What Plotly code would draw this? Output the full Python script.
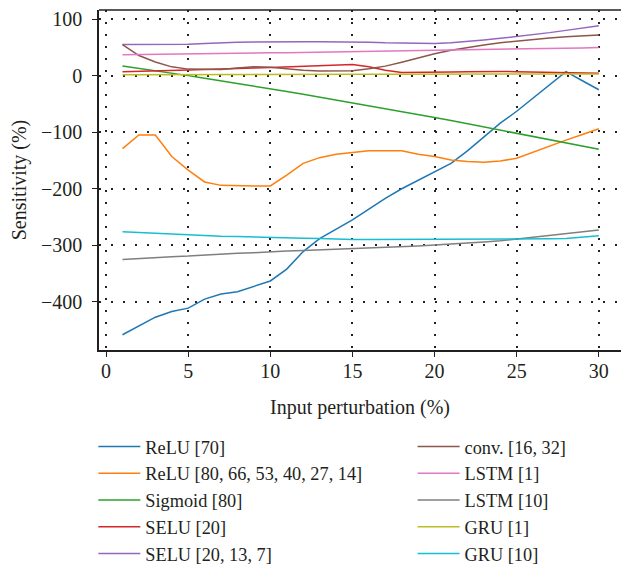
import plotly.graph_objects as go

x = list(range(1, 31))

relu_70 = [-458, -443, -427, -417, -411, -395, -386, -382, -373, -363,
           -342, -311, -288, -272, -255, -236, -217, -200, -185, -170,
           -155, -133, -108, -84, -63, -40, -16, 7, -9, -25]
relu_deep = [-129, -105, -105, -143, -167, -188, -194, -195, -195, -195,
             -176, -155, -145, -139, -136, -133, -133, -133, -139, -143,
             -149, -152, -153, -151, -146, -135, -125, -114, -104, -94]
sigmoid_80 = [17, 13, 8.5, 4, 0, -4.5, -9, -13.5, -18.5, -23,
              -28, -33, -38, -43, -48, -53, -58, -63.5, -68.5, -74,
              -79.5, -85, -90.5, -96, -102, -107.5, -113, -119, -124.5, -130]
selu_20 = [7, 7.5, 8, 9, 10, 11, 11.5, 12.5, 13.5, 14.5,
           15.5, 16.5, 17.5, 18.5, 19.5, 15.5, 9.7, 5.6, 5.6, 5.6,
           6.5, 7, 7.5, 7.5, 7, 6.5, 6, 5, 4.5, 4]
selu_deep = [55, 55, 55, 55, 55.5, 57, 58.5, 59, 59.5, 60,
             60, 60, 60, 60, 59.5, 59, 58, 57.5, 57, 57,
             58, 60, 63, 66, 69, 72.5, 76, 80, 84, 88]
conv = [55, 35.5, 24, 15.5, 11.5, 11, 11, 13.5, 15.5, 15,
        12, 9.7, 8, 8, 8.5, 12, 16.8, 23.8, 31.5, 38.5,
        45, 50, 54, 58, 61, 64, 66.5, 68.5, 70, 72]
lstm_1 = [37, 37.5, 38, 38.3, 38.6, 39, 39.3, 39.6, 40, 40.3,
          40.6, 41, 41.3, 41.6, 42, 42.5, 43, 43.5, 44, 44.5,
          45, 45.5, 46, 46.5, 47, 47.5, 48, 48.5, 49, 49.5]
lstm_10 = [-325, -323, -322, -320, -319, -317, -316, -314, -313, -311,
           -310, -309, -308, -307, -306, -305, -304, -302.5, -301, -299.5,
           -298, -296, -294, -292, -289, -286, -283, -280, -277, -273]
gru_1 = [1.5, 1.5, 1.5, 1.5, 1.5, 1.5, 1.6, 1.7, 1.8, 1.9,
         2, 2, 2, 2, 2, 2.1, 2.2, 2.3, 2.4, 2.5,
         2.5, 2.5, 2.6, 2.7, 2.8, 2.9, 3, 3, 3, 3]
gru_10 = [-276, -277.5, -279, -280.5, -282, -283, -284, -284.5, -285.5, -286,
          -287, -287.5, -288, -289, -289.5, -289.5, -289.5, -289.5, -289.5, -289.5,
          -289.5, -289.5, -289.5, -289, -289, -289, -288.5, -288, -286, -283]

series = [
    ("ReLU [70]", relu_70, "#1f77b4", "legend"),
    ("ReLU [80, 66, 53, 40, 27, 14]", relu_deep, "#ff7f0e", "legend"),
    ("Sigmoid [80]", sigmoid_80, "#2ca02c", "legend"),
    ("SELU [20]", selu_20, "#d62728", "legend"),
    ("SELU [20, 13, 7]", selu_deep, "#9467bd", "legend"),
    ("conv. [16, 32]", conv, "#8c564b", "legend2"),
    ("LSTM [1]", lstm_1, "#e377c2", "legend2"),
    ("LSTM [10]", lstm_10, "#7f7f7f", "legend2"),
    ("GRU [1]", gru_1, "#bcbd22", "legend2"),
    ("GRU [10]", gru_10, "#17becf", "legend2"),
]

x_ticks = [0, 5, 10, 15, 20, 25, 30]
y_ticks = [100, 0, -100, -200, -300, -400]
y_tick_text = ["100", "0", "\u2212100", "\u2212200", "\u2212300", "\u2212400"]

FONT = "Liberation Serif"
TXT = "#231f20"
FS = 20
LFS = 18.3

fig = go.Figure()
for i, (name, vals, color, leg) in enumerate(series):
    fig.add_trace(go.Scatter(
        x=x, y=vals, mode="lines", name=name,
        line=dict(color=color, width=1.5),
        legend=leg,
    ))

axis_common = dict(
    showline=True, linecolor=TXT, linewidth=1.5,
    ticks="outside", ticklen=5, tickwidth=1.2, tickcolor=TXT,
    showgrid=True, gridcolor="#222222", gridwidth=1.5, griddash="2px,10px",
    zeroline=False, tickfont=dict(family=FONT, size=FS, color=TXT),
    automargin=False,
)

fig.update_xaxes(
    domain=[99 / 621, 1.0],
    range=[-0.43, 31.35], tickvals=x_ticks, ticklabelstandoff=-3,
    title=dict(text="Input perturbation (%)", font=dict(family=FONT, size=FS, color=TXT), standoff=19),
    **axis_common,
)
fig.update_yaxes(
    domain=[215 / 565, 555 / 565],
    range=[-485, 116], tickvals=y_ticks, ticktext=y_tick_text, ticklabelstandoff=6,
    title=dict(text="Sensitivity (%)", font=dict(family=FONT, size=FS, color=TXT), standoff=9),
    **axis_common,
)

# top border line
fig.add_shape(type="line", xref="x domain", yref="y domain", x0=0, x1=1, y0=1, y1=1,
              line=dict(color=TXT, width=1.5))

legend_common = dict(
    orientation="v", font=dict(family=FONT, size=LFS, color=TXT),
    bgcolor="rgba(0,0,0,0)", borderwidth=0, tracegroupgap=0,
    xanchor="left", yanchor="top", itemwidth=42,
)

fig.update_layout(
    width=621, height=565,
    margin=dict(l=0, r=0, t=0, b=0, autoexpand=False),
    plot_bgcolor="white", paper_bgcolor="white",
    showlegend=True,
    legend=dict(x=0.1503, y=0.2425, **legend_common),
    legend2=dict(x=0.6644, y=0.2425, **legend_common),
)

# remove the browser's default 8px body margin so the figure sits at the page origin
fig.write_html("out.html", config={"displayModeBar": False},
               post_script="document.body.style.margin='0';")
